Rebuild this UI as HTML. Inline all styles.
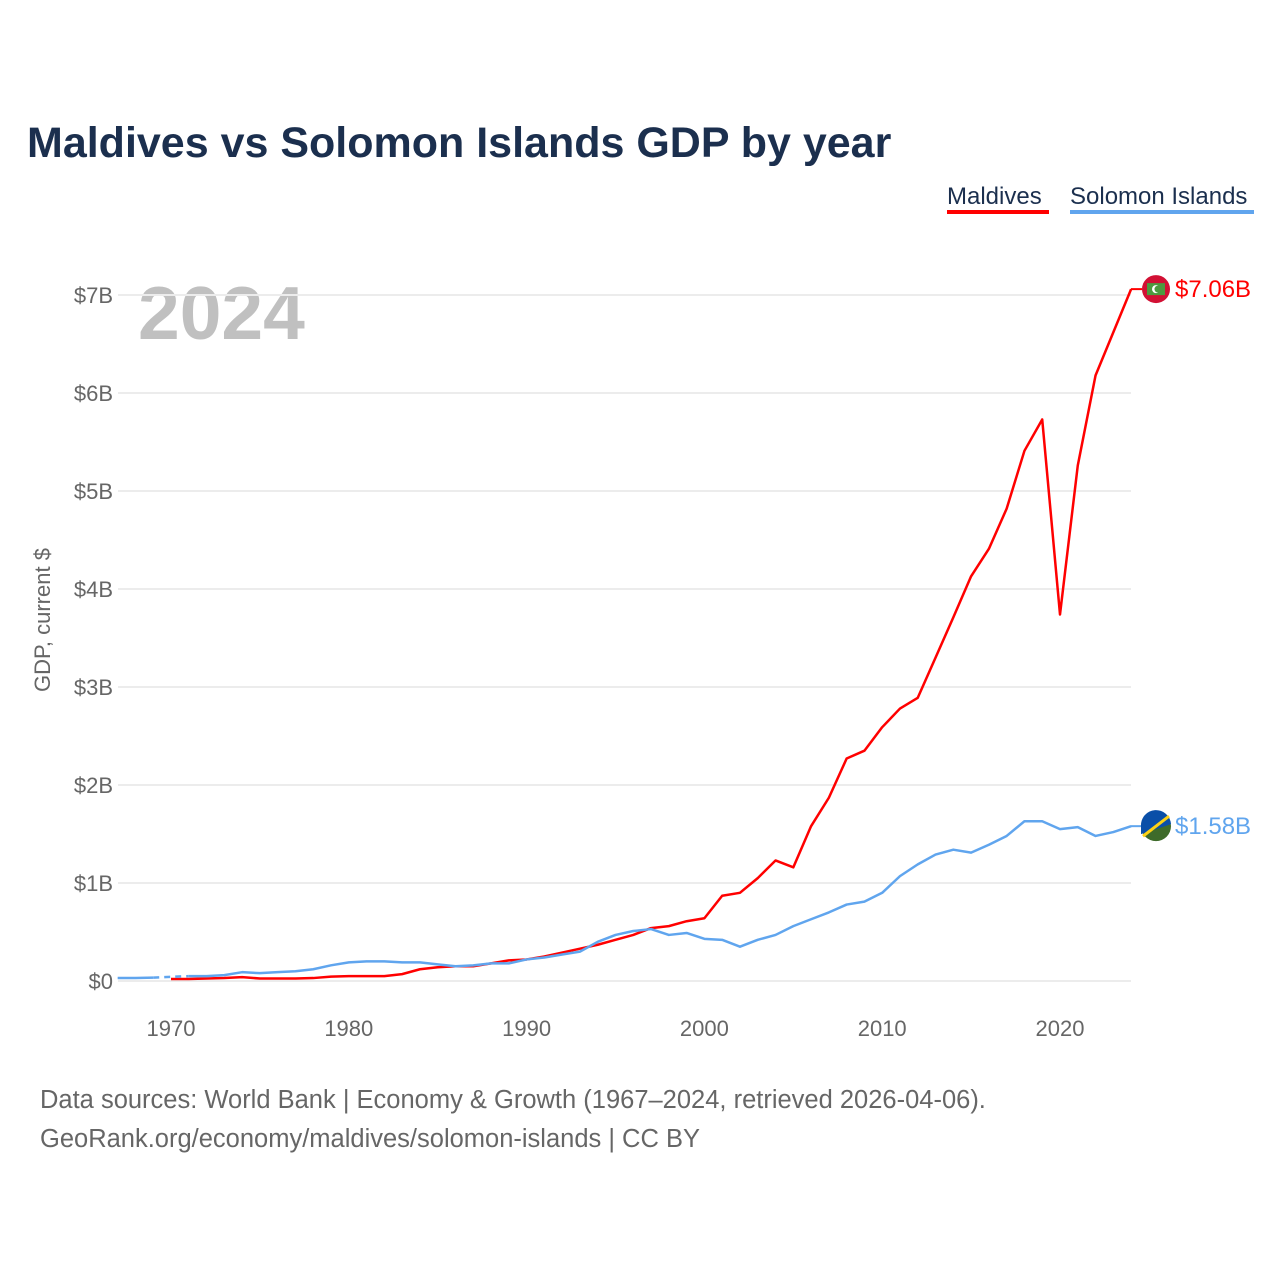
<!DOCTYPE html>
<html><head><meta charset="utf-8"><style>
body{margin:0;background:#fff;font-family:"Liberation Sans",sans-serif}
</style></head><body>
<svg id="c" width="1280" height="1280" xmlns="http://www.w3.org/2000/svg">
<text x="27" y="157" font-size="43" font-weight="bold" fill="#1b2f4e">Maldives vs Solomon Islands GDP by year</text>
<g><text x="947" y="204" font-size="24" fill="#1b2f4e">Maldives</text><rect x="947" y="210" width="102" height="4" fill="#ff0000"/></g>
<g><text x="1070" y="204" font-size="24" fill="#1b2f4e">Solomon Islands</text><rect x="1070" y="210" width="184" height="4" fill="#60a5ee"/></g>
<text x="138" y="339" font-size="75" font-weight="bold" fill="#c0c0c0">2024</text>
<text transform="translate(50,620) rotate(-90)" text-anchor="middle" font-size="22" fill="#666">GDP, current $</text>
<g id="grid"></g><g id="lines"></g>
<text x="40" y="1108" font-size="25.5" fill="#666">Data sources: World Bank | Economy &amp; Growth (1967–2024, retrieved 2026-04-06).</text>
<text x="40" y="1147" font-size="25.5" fill="#666">GeoRank.org/economy/maldives/solomon-islands | CC BY</text>
</svg>
<script>
const years=[];for(let y=1967;y<=2024;y++)years.push(y);
const maldives=[null,null,null,0.02,0.02,0.025,0.03,0.04,0.025,0.025,0.025,0.03,0.045,0.05,0.05,0.05,0.07,0.12,0.14,0.15,0.15,0.18,0.21,0.22,0.25,0.29,0.33,0.37,0.42,0.47,0.54,0.56,0.61,0.64,0.87,0.9,1.05,1.23,1.16,1.58,1.87,2.27,2.35,2.59,2.78,2.89,3.3,3.71,4.13,4.41,4.82,5.41,5.73,3.74,5.26,6.18,6.62,7.06];
const solomon=[0.03,0.03,0.035,null,0.05,0.05,0.06,0.09,0.08,0.09,0.1,0.12,0.16,0.19,0.2,0.2,0.19,0.19,0.17,0.15,0.16,0.18,0.18,0.22,0.24,0.27,0.3,0.4,0.47,0.51,0.53,0.47,0.49,0.43,0.42,0.35,0.42,0.47,0.56,0.63,0.7,0.78,0.81,0.9,1.07,1.19,1.29,1.34,1.31,1.39,1.48,1.63,1.63,1.55,1.57,1.48,1.52,1.58];
const yTicks=[0,1,2,3,4,5,6,7];
const yLabels=["$0","$1B","$2B","$3B","$4B","$5B","$6B","$7B"];
const xTicks=[1970,1980,1990,2000,2010,2020];
const X=y=>171+(y-1970)*17.78, Y=v=>981-v*98;
const NS="http://www.w3.org/2000/svg";
function mk(t,a,p){const e=document.createElementNS(NS,t);for(const k in a)e.setAttribute(k,a[k]);p.appendChild(e);return e;}
const g=document.getElementById('grid'),L=document.getElementById('lines');
yTicks.forEach((v,i)=>{
 const l=mk('line',{x1:118,x2:1131,y1:Y(v),y2:Y(v),stroke:'#ececec','stroke-width':2},g);
 
 
 const t=mk('text',{x:113,y:Y(v)+8,'text-anchor':'end','font-size':22,fill:'#666'},g);t.textContent=yLabels[i];
 
 
});
xTicks.forEach(yr=>{
 const t=mk('text',{x:X(yr),y:1036,'text-anchor':'middle','font-size':22,fill:'#666'},g);t.textContent=yr;
 
 
});
function draw(vals,color,name){
 let segs=[],cur=[];
 vals.forEach((v,i)=>{if(v==null){if(cur.length)segs.push(cur);cur=[];}else cur.push([X(years[i]),Y(v)]);});
 if(cur.length)segs.push(cur);
 segs.forEach(s=>{const p=mk('polyline',{points:s.map(q=>q.join(',')).join(' '),fill:'none',stroke:color,'stroke-width':2.5,'stroke-linejoin':'round'},L);
 
 });
 for(let i=1;i<vals.length-1;i++){if(vals[i]==null&&vals[i-1]!=null&&vals[i+1]!=null){
  const d=mk('line',{x1:X(years[i-1]),y1:Y(vals[i-1]),x2:X(years[i+1]),y2:Y(vals[i+1]),stroke:color,'stroke-width':2.5,'stroke-dasharray':'6,5'},L);
  
  }}
}
draw(maldives,'#ff0000','maldives');
draw(solomon,'#60a5ee','solomon-islands');
function endLabel(v,color,name,flag){
 const y=Y(v);
 const c=mk('g',{},L);
 
 
 mk('line',{x1:1131,y1:y,x2:1142,y2:y,stroke:color,'stroke-width':2},c);
 flag(c,y);
 const t=mk('text',{x:1175,y:y+8,'font-size':24,fill:color},c);t.textContent='$'+v.toFixed(2)+'B';
}
endLabel(maldives[maldives.length-1],'#ff0000','maldives',(c,y)=>{
 mk('circle',{cx:1156,cy:y,r:14,fill:'#d21034'},c);
 mk('rect',{x:1147,y:y-6,width:18,height:12,fill:'#4c9a3f'},c);
 mk('circle',{cx:1156,cy:y,r:4,fill:'#fff'},c);mk('circle',{cx:1158,cy:y,r:3.5,fill:'#4c9a3f'},c);
});
endLabel(solomon[solomon.length-1],'#60a5ee','solomon-islands',(c,y)=>{
 mk('circle',{cx:1156,cy:y,r:15,fill:'#3e6b2a'},c);
 mk('path',{d:`M1141,${y} A15,15 0 0 1 1171,${y-2} L1141,${y+8}Z`,fill:'#0a4fa8'},c);
 mk('line',{x1:1143,y1:y+10,x2:1169,y2:y-10,stroke:'#fcd116','stroke-width':3},c);
});
</script>
</body></html>
